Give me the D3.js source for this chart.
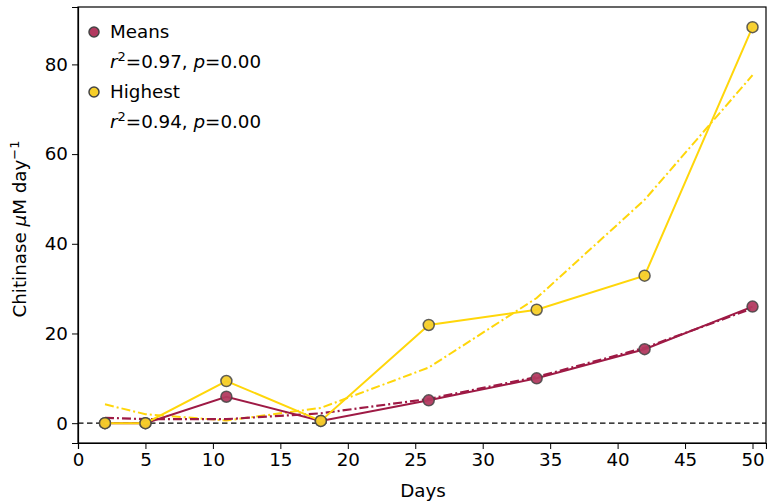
<!DOCTYPE html>
<html>
<head>
<meta charset="utf-8">
<script src="https://cdn.jsdelivr.net/npm/d3@7"></script>
<style>
  html, body { margin: 0; padding: 0; background: #fff; }
  svg { display: block; font-family: "DejaVu Sans", sans-serif; }
</style>
</head>
<body>
<svg id="chart" width="767" height="503"></svg>
<script>
// Sampling days
const days = [2, 5, 11, 18, 26, 34, 42, 50];
// Chitinase activity (µM day⁻¹)
const meansValues   = [0, 0, 5.9, 0.5, 5.1, 10.0, 16.5, 26.0];
const highestValues = [0, 0, 9.4, 0.5, 21.9, 25.3, 32.9, 88.3];
// Fitted trend values at each sampling day
const meansFit   = [1.2, 0.9, 0.9, 2.2, 5.4, 10.3, 16.8, 25.6];
const highestFit = [4.2, 2.0, 0.6, 3.4, 12.4, 27.9, 49.8, 77.6];
// Axis ticks
const xTicks = [0, 5, 10, 15, 20, 25, 30, 35, 40, 45, 50];
const yTicks = [0, 20, 40, 60, 80];
// Legend entries
const legendNames = ["Means", "Highest"];
const legendR2 = ["0.97", "0.94"];
const legendP = ["0.00", "0.00"];

const svg = d3.select("#chart");
const margin = { left: 78, right: 1, top: 7, bottom: 60 };
const W = 767, H = 503;
const FS = "18.3px", SUP = "13px";

const x = d3.scaleLinear().domain([0, 51]).range([margin.left, W - margin.right]);
const y = d3.scaleLinear().domain([-4.42, 92.8]).range([H - margin.bottom, margin.top]);

const meansColor = "#9e1a45";
const meansFill = "#b23a60";
const highColor = "#ffd60a";
const highFill = "#f7cf2a";

// Frame
svg.append("rect")
  .attr("x", x(0)).attr("y", y(92.8))
  .attr("width", x(51) - x(0)).attr("height", y(-4.42) - y(92.8))
  .attr("fill", "none").attr("stroke", "#000").attr("stroke-width", 1.2);

// Axes
const xAxis = svg.append("g")
  .attr("transform", `translate(0,${y(-4.42)})`)
  .call(d3.axisBottom(x).tickValues(xTicks).tickSizeOuter(0).tickSize(6).tickPadding(4));
const yAxis = svg.append("g")
  .attr("transform", `translate(${x(0)},0)`)
  .call(d3.axisLeft(y).tickValues(yTicks).tickSizeOuter(0).tickSize(6).tickPadding(4));
[xAxis, yAxis].forEach(a => {
  a.select(".domain").attr("stroke", "#000").attr("stroke-width", 1.2);
  a.selectAll(".tick line").attr("stroke", "#000").attr("stroke-width", 1);
  a.selectAll(".tick text").attr("fill", "#000")
    .style("font-family", "DejaVu Sans, sans-serif").style("font-size", FS);
});

// Axis titles
svg.append("text")
  .attr("x", (x(0) + x(51)) / 2 + 1).attr("y", 497)
  .attr("text-anchor", "middle").style("font-size", FS).text("Days");

const yl = svg.append("text")
  .attr("transform", `translate(26,${(y(-4.42) + y(92.8)) / 2 + 4}) rotate(-90)`)
  .attr("text-anchor", "middle").style("font-size", FS);
yl.append("tspan").text("Chitinase ");
yl.append("tspan").style("font-style", "italic").text("μ");
yl.append("tspan").text("M day");
yl.append("tspan").attr("dy", -7).style("font-size", SUP).text("−1");

// Zero reference line
svg.append("line")
  .attr("x1", x(0)).attr("x2", x(51))
  .attr("y1", y(0)).attr("y2", y(0))
  .attr("stroke", "#000").attr("stroke-width", 1.3)
  .attr("stroke-dasharray", "5.5,3.5");

const line = d3.line().x(d => x(d[0])).y(d => y(d[1]));
const zip = vals => days.map((d, i) => [d, vals[i]]);

// Trend lines (dash-dot)
svg.append("path").datum(zip(highestFit))
  .attr("d", line).attr("fill", "none")
  .attr("stroke", highColor).attr("stroke-width", 2)
  .attr("stroke-dasharray", "9,3,2,3");
svg.append("path").datum(zip(meansFit))
  .attr("d", line).attr("fill", "none")
  .attr("stroke", meansColor).attr("stroke-width", 2.2)
  .attr("stroke-dasharray", "9,3,2,3");

function series(vals, stroke, fill) {
  svg.append("path").datum(zip(vals))
    .attr("d", line).attr("fill", "none")
    .attr("stroke", stroke).attr("stroke-width", 2);
  svg.append("g").selectAll("circle").data(zip(vals)).join("circle")
    .attr("cx", d => x(d[0])).attr("cy", d => y(d[1])).attr("r", 5.5)
    .attr("fill", fill).attr("stroke", "#444").attr("stroke-width", 1.5)
    .attr("fill-opacity", 0.95).attr("stroke-opacity", 0.85);
}
series(meansValues, meansColor, meansFill);
series(highestValues, highColor, highFill);

// Legend
const legendColors = [meansFill, highFill];
legendNames.forEach((name, i) => {
  const cy = 32 + i * 60;
  svg.append("circle").attr("cx", 94).attr("cy", cy).attr("r", 5)
    .attr("fill", legendColors[i]).attr("stroke", "#444").attr("stroke-width", 1.5);
  svg.append("text").attr("x", 110).attr("y", cy + 6)
    .style("font-size", FS).text(name);
  const t = svg.append("text").attr("x", 110).attr("y", cy + 36).style("font-size", FS);
  t.append("tspan").style("font-style", "italic").text("r");
  t.append("tspan").attr("dy", -7).style("font-size", SUP).text("2");
  t.append("tspan").attr("dy", 7).text("=" + legendR2[i] + ", ");
  t.append("tspan").style("font-style", "italic").text("p");
  t.append("tspan").text("=" + legendP[i]);
});
</script>
</body>
</html>
